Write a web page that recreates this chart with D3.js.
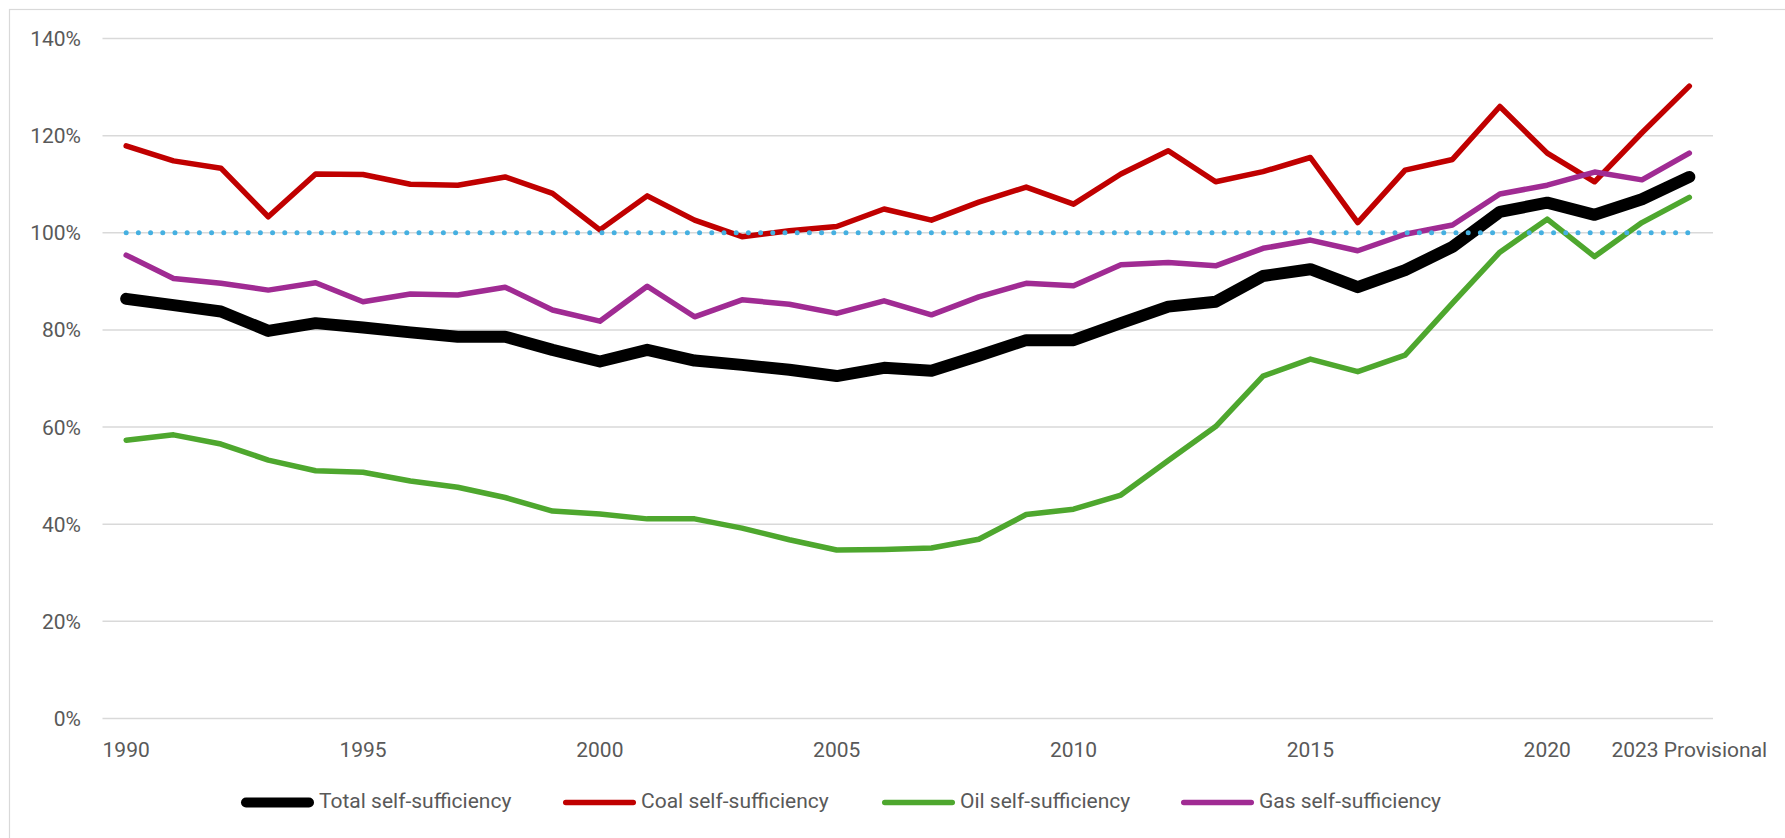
<!DOCTYPE html>
<html>
<head>
<meta charset="utf-8">
<script src="https://cdn.jsdelivr.net/npm/d3@7"></script>
<style>
  html, body { margin: 0; padding: 0; background: #ffffff; }
  svg { display: block; }
  text { font-family: Roboto, "Open Sans", sans-serif; fill: #595959; }
</style>
</head>
<body>
<svg id="chart" width="1785" height="838"></svg>
<script>
// Years on the category axis
const years = [1990, 1991, 1992, 1993, 1994, 1995, 1996, 1997, 1998, 1999,
               2000, 2001, 2002, 2003, 2004, 2005, 2006, 2007, 2008, 2009,
               2010, 2011, 2012, 2013, 2014, 2015, 2016, 2017, 2018, 2019,
               2020, 2021, 2022, 2023];

// Category labels shown under the axis (blank = no label)
const yearLabels = {1990: "1990", 1995: "1995", 2000: "2000", 2005: "2005",
                    2010: "2010", 2015: "2015", 2020: "2020", 2023: "2023 Provisional"};

// Self-sufficiency, percent
const totalSelf = [86.4, 85.1, 83.8, 79.8, 81.4, 80.5, 79.5, 78.6, 78.6, 75.9,
                   73.5, 75.9, 73.7, 72.8, 71.8, 70.5, 72.2, 71.6, 74.7, 77.9,
                   77.9, 81.4, 84.8, 85.8, 91.1, 92.5, 88.8, 92.3, 97.1, 104.3,
                   106.2, 103.7, 106.9, 111.5];

const coalSelf = [117.9, 114.8, 113.3, 103.3, 112.1, 112.0, 110.0, 109.8, 111.5, 108.1,
                  100.6, 107.6, 102.6, 99.2, 100.4, 101.3, 104.9, 102.6, 106.3, 109.4,
                  105.9, 112.1, 116.9, 110.5, 112.6, 115.5, 102.1, 112.9, 115.1, 126.0,
                  116.4, 110.5, 120.6, 130.2];

const oilSelf = [57.3, 58.4, 56.5, 53.2, 51.0, 50.7, 48.9, 47.6, 45.5, 42.7,
                 42.1, 41.1, 41.1, 39.2, 36.8, 34.7, 34.8, 35.1, 36.9, 42.0,
                 43.1, 46.0, 53.1, 60.1, 70.5, 74.0, 71.4, 74.8, 85.5, 96.0,
                 102.8, 95.1, 102.1, 107.3];

const gasSelf = [95.4, 90.6, 89.6, 88.2, 89.7, 85.8, 87.4, 87.2, 88.8, 84.1,
                 81.8, 89.0, 82.7, 86.2, 85.3, 83.4, 86.0, 83.1, 86.8, 89.6,
                 89.1, 93.4, 93.9, 93.2, 96.8, 98.5, 96.3, 99.7, 101.6, 108.0,
                 109.8, 112.5, 110.9, 116.4];

// 100% self-sufficiency reference level
const fullSufficiency = 100;

// Value axis ticks
const yTicks = [0, 20, 40, 60, 80, 100, 120, 140];

const series = [
  { name: "Total self-sufficiency", values: totalSelf, color: "#000000", width: 12, legendWidth: 10 },
  { name: "Coal self-sufficiency",  values: coalSelf,  color: "#C00000", width: 5.5, legendWidth: 5.5 },
  { name: "Oil self-sufficiency",   values: oilSelf,   color: "#4EA72E", width: 5.5, legendWidth: 5.5 },
  { name: "Gas self-sufficiency",   values: gasSelf,   color: "#A02B93", width: 5.5, legendWidth: 5.5 }
];

const svg = d3.select("#chart");

// Chart frame
svg.append("rect")
  .attr("x", 9.5).attr("y", 9.5)
  .attr("width", 1800).attr("height", 850)
  .attr("fill", "#ffffff")
  .attr("stroke", "#d9d9d9")
  .attr("stroke-width", 1.2);

const plot = { left: 102.5, right: 1713, top: 38.5, bottom: 718.5 };

const x = d3.scaleBand()
  .domain(years)
  .range([plot.left, plot.right])
  .padding(0);

const cx = d => x(d) + x.bandwidth() / 2;

const y = d3.scaleLinear()
  .domain([0, 140])
  .range([plot.bottom, plot.top]);

// Horizontal gridlines
svg.append("g")
  .selectAll("line")
  .data(yTicks)
  .join("line")
  .attr("x1", plot.left).attr("x2", plot.right)
  .attr("y1", d => y(d)).attr("y2", d => y(d))
  .attr("stroke", "#d9d9d9")
  .attr("stroke-width", 1.5);

// Value axis labels
svg.append("g")
  .selectAll("text")
  .data(yTicks)
  .join("text")
  .attr("x", 81)
  .attr("y", d => y(d) + 7.5)
  .attr("text-anchor", "end")
  .attr("font-size", 21)
  .text(d => d + "%");

// Category axis labels
svg.append("g")
  .selectAll("text")
  .data(years.filter(yr => yearLabels[yr]))
  .join("text")
  .attr("x", d => cx(d))
  .attr("y", 757)
  .attr("text-anchor", "middle")
  .attr("font-size", 21)
  .text(d => yearLabels[d]);

// Series lines
const line = d3.line()
  .x((d, i) => cx(years[i]))
  .y(d => y(d));

svg.append("g")
  .selectAll("path")
  .data(series)
  .join("path")
  .attr("d", s => line(s.values))
  .attr("fill", "none")
  .attr("stroke", s => s.color)
  .attr("stroke-width", s => s.width)
  .attr("stroke-linejoin", "round")
  .attr("stroke-linecap", "round");

// Dotted 100% line
svg.append("path")
  .attr("d", d3.line().x(d => cx(d)).y(() => y(fullSufficiency))(years))
  .attr("fill", "none")
  .attr("stroke", "#45B0E1")
  .attr("stroke-width", 5)
  .attr("stroke-linecap", "round")
  .attr("stroke-dasharray", "0 12.2");

// Legend below the axis
const legendY = 802.5;
const legendStarts = [241, 563, 882, 1181];
const sampleLen = 73;
const textGap = 5;

const legend = svg.append("g")
  .selectAll("g")
  .data(series)
  .join("g")
  .attr("transform", (s, i) => `translate(${legendStarts[i]},0)`);

legend.append("line")
  .attr("x1", s => s.legendWidth / 2).attr("x2", s => sampleLen - s.legendWidth / 2)
  .attr("y1", legendY).attr("y2", legendY)
  .attr("stroke", s => s.color)
  .attr("stroke-width", s => s.legendWidth)
  .attr("stroke-linecap", "round");

legend.append("text")
  .attr("x", sampleLen + textGap)
  .attr("y", legendY + 5)
  .attr("font-size", 21)
  .text(s => s.name);
</script>
</body>
</html>
